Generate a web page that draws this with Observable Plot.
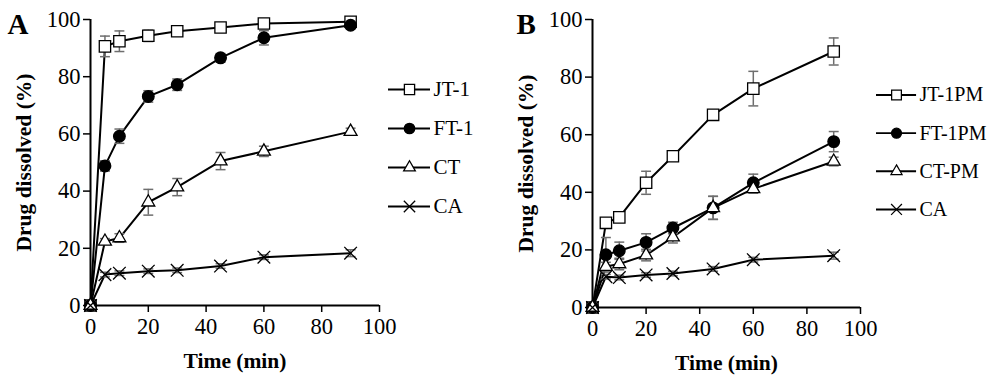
<!DOCTYPE html>
<html><head><meta charset="utf-8">
<script src="https://cdn.jsdelivr.net/npm/d3@7"></script>
<script src="https://cdn.jsdelivr.net/npm/@observablehq/plot@0.6"></script>
<style>
body{margin:0;background:#fff;}
#root{position:relative;width:1000px;height:378px;overflow:hidden;background:#fff;}
#root > div{position:absolute;}
#root svg{font-family:'Liberation Serif','Times New Roman',serif !important;}
</style></head><body><div id="root"></div>
<script>
// ---- data ----
const time = [0, 5, 10, 20, 30, 45, 60, 90];
const xTicks = [0, 20, 40, 60, 80, 100];
const yTicks = [0, 20, 40, 60, 80, 100];

const namesA = ["JT-1", "FT-1", "CT", "CA"];
const jt1 = [0, 90.6, 92.4, 94.3, 95.9, 97.2, 98.6, 99.2];
const jt1Err = [0, 3.6, 3.6, 2.0, 0.8, 0.8, 0.8, 0.8];
const ft1 = [0, 48.8, 59.2, 73.1, 77.2, 86.6, 93.6, 98.0];
const ft1Err = [0, 1.8, 2.5, 2.0, 2.0, 1.5, 2.5, 1.2];
const ct = [0, 22.4, 23.6, 36.1, 41.4, 50.5, 53.9, 60.8];
const ctErr = [0, 1.0, 1.5, 4.5, 3.0, 3.0, 1.8, 1.2];
const caA = [0, 10.8, 11.3, 12.0, 12.3, 13.8, 16.9, 18.3];
const caAErr = [0, 0.8, 0.8, 0.8, 0.8, 0.8, 0.8, 1.2];

const namesB = ["JT-1PM", "FT-1PM", "CT-PM", "CA"];
const jt1pm = [0, 29.4, 31.3, 43.3, 52.5, 66.9, 76.0, 88.9];
const jt1pmErr = [0, 1.5, 1.0, 4.0, 1.0, 0.8, 6.0, 4.7];
const ft1pm = [0, 18.3, 19.7, 22.6, 27.6, 34.6, 43.3, 57.6];
const ft1pmErr = [0, 6.0, 3.0, 3.0, 2.0, 4.0, 3.0, 3.5];
const ctpm = [0, 14.2, 15.1, 18.2, 24.4, 34.6, 41.2, 50.7];
const ctpmErr = [0, 1.5, 2.0, 2.0, 2.0, 4.0, 1.5, 1.5];
const caB = [0, 10.7, 10.4, 11.3, 11.8, 13.4, 16.6, 18.0];
const caBErr = [0, 0.8, 0.8, 0.8, 0.8, 0.8, 0.8, 1.2];

// ---- styles ----
const FONT = "'Liberation Serif', 'Times New Roman', serif";
const markerStyles = [
  {symbol: "square", fill: "white", r: 6.4},
  {symbol: "circle", fill: "black", r: 5.8},
  {symbol: "triangle", fill: "white", r: 4.8},
  {symbol: "times", fill: "none", r: 5.8}
];
const capSymbol = {draw(ctx, size) { const w = Math.sqrt(size) / 2; ctx.moveTo(-w, 0); ctx.lineTo(w, 0); }};
const ERR = "#6e6e6e";

function rowsOf(names, vals, errs) {
  const rows = [];
  names.forEach((n, i) => time.forEach((t, j) => rows.push({series: n, idx: i, t, v: vals[i][j], e: errs[i][j]})));
  return rows;
}

function panel(letter, names, vals, errs, m, letterDx) {
  const rows = rowsOf(names, vals, errs);
  const er = rows.filter(d => d.e > 0);
  const marks = [
    Plot.axisX({ticks: xTicks, tickSize: 7, tickPadding: 6, fontSize: 22.5, label: null, strokeWidth: 1.5}),
    Plot.axisY({ticks: yTicks, tickSize: 7, tickPadding: 3, fontSize: 22.5, label: null, strokeWidth: 1.5}),
    Plot.axisX({ticks: [], tickSize: 0, label: "Time (min)", labelAnchor: "center", labelArrow: "none", labelOffset: 62, fontSize: 21.5, fontWeight: "bold"}),
    Plot.axisY({ticks: [], tickSize: 0, label: "Drug dissolved (%)", labelAnchor: "center", labelArrow: "none", labelOffset: 75, fontSize: 21.5, fontWeight: "bold"}),
    Plot.ruleX([0], {stroke: "black", strokeWidth: 2}),
    Plot.ruleY([0], {stroke: "black", strokeWidth: 2}),
    Plot.line(rows, {x: "t", y: "v", z: "series", stroke: "black", strokeWidth: 2}),
    Plot.ruleX(er, {x: "t", y1: d => d.v - d.e, y2: d => d.v + d.e, stroke: ERR, strokeWidth: 1.5}),
    Plot.dot(er, {x: "t", y: d => d.v + d.e, symbol: capSymbol, r: 5.6, fill: "none", stroke: ERR, strokeWidth: 1.5}),
    Plot.dot(er, {x: "t", y: d => d.v - d.e, symbol: capSymbol, r: 5.6, fill: "none", stroke: ERR, strokeWidth: 1.5})
  ];
  names.forEach((n, i) => {
    const s = markerStyles[i];
    marks.push(Plot.dot(rows.filter(d => d.idx === i), {x: "t", y: "v", symbol: s.symbol, fill: s.fill, stroke: "black", strokeWidth: 1.3, r: s.r}));
  });
  marks.push(
    Plot.text([letter], {text: d => d, frameAnchor: "top-left", dx: letterDx, dy: 5, textAnchor: "start", lineAnchor: "middle", fontSize: 29, fontWeight: "bold"})
  );
  return Plot.plot({
    width: 500, height: 378,
    marginLeft: m[0], marginRight: m[1], marginTop: m[2], marginBottom: m[3],
    x: {domain: [0, 100]},
    y: {domain: [0, 100]},
    style: {fontFamily: FONT, color: "black", background: "white", overflow: "visible"},
    marks
  });
}

function legend(names, height) {
  const marks = [
    Plot.ruleY(names, {y: d => d, x1: 0, x2: 1, stroke: "black", strokeWidth: 2})
  ];
  names.forEach((n, i) => {
    const s = markerStyles[i];
    marks.push(Plot.dot([n], {x: 0.5, y: d => d, symbol: s.symbol, fill: s.fill, stroke: "black", strokeWidth: 1.3, r: s.r * 0.9}));
  });
  marks.push(Plot.text(names, {x: 1, y: d => d, text: d => d, dx: 3, textAnchor: "start", fontSize: 21}));
  return Plot.plot({
    width: 130, height,
    marginLeft: 0, marginRight: 0, marginTop: 10, marginBottom: 10,
    x: {domain: [0, 1], range: [0, 42], axis: null},
    y: {type: "point", domain: names, padding: 0, axis: null},
    style: {fontFamily: FONT, color: "black", background: "transparent", overflow: "visible"},
    marks
  });
}

const root = document.getElementById("root");
function place(node, left, top) {
  const d = document.createElement("div");
  d.style.left = left + "px"; d.style.top = top + "px";
  d.appendChild(node); root.appendChild(d);
}
place(panel("A", namesA, [jt1, ft1, ct, caA], [jt1Err, ft1Err, ctErr, caAErr], [90, 121, 19, 73], -83), 0, 0);
place(panel("B", namesB, [jt1pm, ft1pm, ctpm, caB], [jt1pmErr, ft1pmErr, ctpmErr, caBErr], [92, 140, 19, 71], -76), 500, 0);
place(legend(namesA, 137), 388, 79);
place(legend(namesB, 140), 876, 85);
</script></body></html>
